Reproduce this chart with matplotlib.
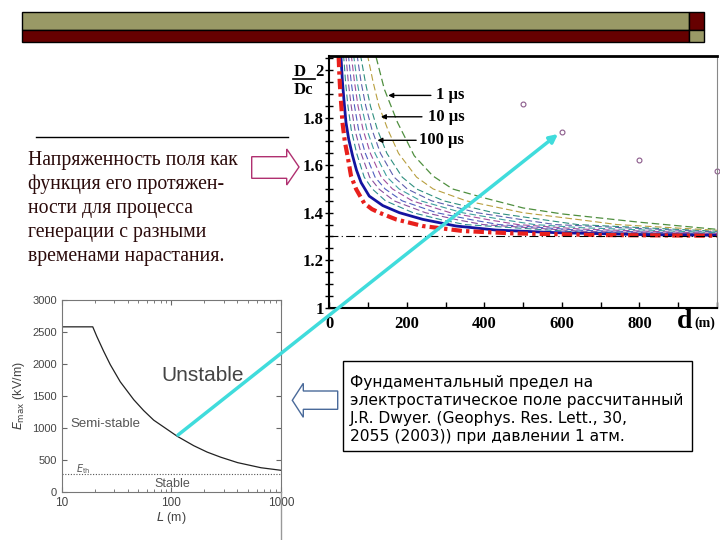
import numpy as np
import matplotlib.pyplot as plt
from matplotlib.patches import Rectangle, Polygon

# ---- upper chart: D/Dc vs d (m) ----
levels = [2.15, 2.06, 1.95, 1.85, 1.75, 1.65, 1.55, 1.5, 1.45, 1.4, 1.37, 1.35]
thin_d = [
    [34.6, 37, 42, 48, 56.6, 70.6, 90, 111, 145, 216, 290, 351],
    [40.7, 43, 49, 56.5, 66, 82, 104, 128, 167, 248, 331, 397],
    [46.5, 49.5, 56.5, 65, 75.5, 93, 118, 144, 188, 277, 368, 438],
    [53.5, 57, 65, 74, 87, 106, 134, 163, 214, 312, 412, 487],
    [60, 63, 72, 83, 97, 118, 149, 180, 236, 343, 451, 530],
    [68, 72, 82, 94, 110, 132, 167, 201, 264, 381, 500, 583],
    [77, 81, 93, 106, 124, 148.5, 188, 225, 295, 424, 554, 641],
    [94, 99, 113, 128, 151, 178.6, 225, 268, 353, 500, 648, 743],
]
thin_mid = [1.318, 1.322, 1.326, 1.331, 1.337]   # at d = 650 (first five curves)
thin_end = [1.307, 1.309, 1.311, 1.313, 1.316, 1.319, 1.322, 1.326]  # at d = 1000
thin_colors = ["#2f8f8f", "#8a4f9f", "#4f5fbf", "#9f4f9f", "#3f9f9f",
               "#5f5faf", "#2f8f7f", "#b89f3f"]

green_d = [115, 120, 142, 176, 219, 267, 318, 405, 500, 600, 800, 1000]
green_D = [2.15, 2.06, 1.92, 1.78, 1.64, 1.555, 1.5, 1.46, 1.42, 1.395, 1.36, 1.33]

blue_d = [28, 30, 34, 38, 43, 50, 60, 70, 82, 103, 138, 181, 241, 327, 430, 585, 800, 1000]
blue_D = [2.15, 2.06, 1.95, 1.87, 1.78, 1.71, 1.64, 1.58, 1.527, 1.47, 1.43, 1.40,
          1.372, 1.344, 1.327, 1.316, 1.308, 1.305]

red_d = [22, 24, 26, 28, 31, 34, 40, 47, 56, 69, 90, 110, 129, 172, 241, 344, 473, 700, 1000]
red_D = [2.15, 2.06, 1.98, 1.92, 1.85, 1.78, 1.70, 1.64, 1.555, 1.50, 1.44, 1.415, 1.40,
         1.372, 1.344, 1.323, 1.313, 1.306, 1.303]

circ_d = [500, 600, 800, 1000]
circ_D = [1.856, 1.741, 1.622, 1.577]
D_limit = 1.3

# ---- lower chart: Dwyer E_max vs L ----
L_vals = [10, 19.2, 20.9, 24.1, 27.7, 34.2, 45.4, 55.9, 69, 113, 160, 212, 282, 402, 657, 1000]
E_vals = [2580, 2580, 2430, 2200, 1990, 1720, 1440, 1270, 1120, 868, 720, 620, 540, 455, 375, 335]
E_th = 270

left_lines = ["Напряженность поля как",
              "функция его протяжен-",
              "ности для процесса",
              "генерации с разными",
              "временами нарастания."]
box_lines = ["Фундаментальный предел на",
             "электростатическое поле рассчитанный",
             "J.R. Dwyer. (Geophys. Res. Lett., 30,",
             "2055 (2003)) при давлении 1 атм."]


def box(x0, y0, x1, y1):
    # pixel rectangle (origin top-left) -> figure fraction
    return [x0 / 720, 1 - y1 / 540, (x1 - x0) / 720, (y1 - y0) / 540]


fig = plt.figure(figsize=(7.2, 5.4), dpi=100)
serif = "Liberation Serif"

# upper chart
ax = fig.add_axes(box(329.3, 56, 717, 307.7))
ax.set_xlim(0, 1000)
ax.set_ylim(1, 2.06)
for i, (c, dd) in enumerate(zip(thin_colors, thin_d)):
    xs = list(dd)
    ys = list(levels)
    if i < len(thin_mid):
        xs.append(650)
        ys.append(thin_mid[i])
    xs.append(1000)
    ys.append(thin_end[i])
    ax.plot(xs, ys, color=c, lw=0.8, ls=(0, (6, 3)))
ax.plot(green_d, green_D, color="#4f8f3f", lw=0.9, ls=(0, (6, 3)))
ax.plot(blue_d, blue_D, color="#1414a0", lw=2)
ax.plot(red_d, red_D, color="#e8201c", lw=3, ls=(0, (2.5, 1, 0.8, 1)))
ax.axhline(D_limit, color="black", lw=0.8, ls=(0, (8, 3, 1, 3)))
ax.plot(circ_d, circ_D, "o", ms=3.5, mfc="none", mec="#8a5a8a", mew=0.8, clip_on=False)

ax.set_xticks(np.arange(0, 1001, 100))
ax.set_xticklabels(["0", "", "200", "", "400", "", "600", "", "800", "", ""])
ax.set_yticks([1, 1.2, 1.4, 1.6, 1.8, 2])
ax.set_yticklabels(["1", "1.2", "1.4", "1.6", "1.8", "2"])
ax.set_yticks(np.arange(1, 2.06, 0.05), minor=True)
ax.tick_params(axis="x", direction="in", length=4, width=1, pad=6)
ax.tick_params(axis="y", which="both", direction="inout", length=6, width=1, pad=1)
for lab in ax.get_xticklabels() + ax.get_yticklabels():
    lab.set_fontfamily(serif)
    lab.set_fontweight("bold")
    lab.set_fontsize(12)
ax.spines["top"].set_linewidth(2)
ax.spines["left"].set_linewidth(1.5)
ax.spines["bottom"].set_linewidth(1.5)
ax.spines["right"].set_color("#888888")

for lab, y, d_tail, d_tip in [("1 µs", 1.894, 262, 152),
                              ("10 µs", 1.804, 239, 133),
                              ("100 µs", 1.705, 224, 124)]:
    ax.text(348, y, lab, ha="right", va="center", family=serif,
            weight="bold", fontsize=12)
    ax.annotate("", xy=(d_tip, y), xytext=(d_tail, y),
                arrowprops=dict(arrowstyle="-|>", color="black", lw=1,
                                mutation_scale=7, shrinkA=0, shrinkB=0))

# lower chart
bx = fig.add_axes(box(61.7, 300, 281, 491.7))
bx.set_xscale("log")
bx.set_xlim(10, 1000)
bx.set_ylim(0, 3000)
bx.plot(L_vals, E_vals, color="#222222", lw=0.9)
bx.axhline(E_th, color="#555555", lw=0.8, ls=(0, (1, 1.5)))
bx.set_yticks(np.arange(0, 3001, 500))
bx.set_xticks([10, 100, 1000])
bx.set_xticklabels(["10", "100", "1000"])
bx.tick_params(which="both", direction="in", right=True, top=True,
               labelsize=8, labelcolor="#444444", color="#666666")
bx.tick_params(axis="x", labelsize=8.5)
for lab in bx.get_xticklabels() + bx.get_yticklabels():
    lab.set_fontfamily("Liberation Sans")
for s in bx.spines.values():
    s.set_color("#777777")
    s.set_linewidth(0.8)
bx.set_ylabel(r"$E_{\rm max}$ (kV/m)", fontsize=9, color="#444444",
              family="Liberation Sans", labelpad=4)
bx.set_xlabel(r"$L$ (m)", fontsize=9, color="#444444",
              family="Liberation Sans", labelpad=1)
bx.text(191, 1816, "Unstable", fontsize=15, color="#444444",
        family="Liberation Sans", ha="center", va="center")
bx.text(24.9, 1053, "Semi-stable", fontsize=9.5, color="#555555",
        family="Liberation Sans", ha="center", va="center")
bx.text(101.8, 116, "Stable", fontsize=9, color="#555555",
        family="Liberation Sans", ha="center", va="center")
bx.text(15.8, 353, r"$E_{\rm th}$", fontsize=7, color="#555555",
        ha="center", va="center")

# overlay for slide decorations (pixel coords)
ov = fig.add_axes([0, 0, 1, 1], zorder=10)
ov.set_xlim(0, 720)
ov.set_ylim(540, 0)
ov.axis("off")
ov.patch.set_alpha(0)

ov.add_patch(Rectangle((22, 12), 667, 18, fc="#999966", ec="black", lw=1))
ov.add_patch(Rectangle((22, 30), 667, 12, fc="#660000", ec="black", lw=1))
ov.add_patch(Rectangle((689, 12), 15, 18, fc="#660000", ec="black", lw=1))
ov.add_patch(Rectangle((689, 30), 15, 12, fc="#999966", ec="black", lw=1))

ov.plot([36, 288], [137, 137], color="black", lw=1)
for i, line in enumerate(left_lines):
    ov.text(28, 160 + 24.2 * i, line, family=serif, fontsize=14.2,
            color="#2b0b0b", va="center", ha="left")

ov.add_patch(Polygon([(251.7, 156.7), (286.7, 156.7), (286.7, 149), (299, 167),
                      (286.7, 185), (286.7, 178.3), (251.7, 178.3)],
                     closed=True, fc="white", ec="#b03070", lw=1))
ov.add_patch(Polygon([(337.7, 391), (303.3, 391), (303.3, 383.3), (292.3, 400.3),
                      (303.3, 417.3), (303.3, 409.3), (337.7, 409.3)],
                     closed=True, fc="white", ec="#4a6a9a", lw=1))

ov.add_patch(Rectangle((342.7, 360.7), 349, 90, fc="white", ec="black", lw=1))
for i, line in enumerate(box_lines):
    ov.text(350, 382.7 + 18 * i, line, family="DejaVu Sans", fontsize=11.2,
            color="black", va="center", ha="left")

ov.plot([281, 281], [491.7, 540], color="#999999", lw=1)

# D/Dc fraction and d (m) axis title
ov.text(300, 72, "D", family=serif, weight="bold", fontsize=12, ha="center", va="center")
ov.plot([292.7, 315], [79, 79], color="black", lw=1.2)
ov.text(303, 90.5, "Dc", family=serif, weight="bold", fontsize=12, ha="center", va="center")
ov.text(685, 321, "d", family=serif, weight="bold", fontsize=20, ha="center", va="center")
ov.text(705, 323, "(m)", family=serif, weight="bold", fontsize=10, ha="center", va="center")

# cyan connector arrow
ov.annotate("", xy=(558, 134), xytext=(178, 435),
            arrowprops=dict(arrowstyle="-|>", color="#40dcdc", lw=2.5,
                            mutation_scale=12, shrinkA=0, shrinkB=0))

fig.savefig("out.png", dpi=100)
